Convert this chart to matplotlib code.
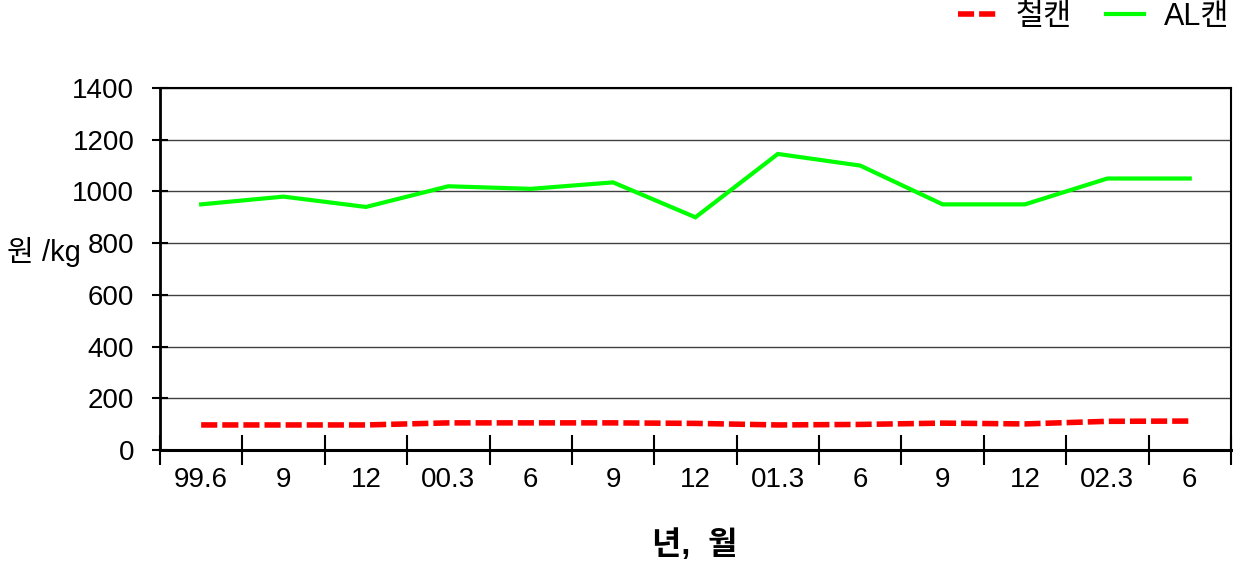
import numpy as np
import matplotlib
matplotlib.use('Agg')
import matplotlib.pyplot as plt
from matplotlib.lines import Line2D

plt.rcParams['font.family'] = ['Liberation Sans', 'Noto Sans CJK KR']

# ---- data ----
months = ['99.6', '9', '12', '00.3', '6', '9', '12', '01.3', '6', '9', '12', '02.3', '6']
steel_can = [97, 97, 97, 105, 105, 105, 103, 97, 99, 104, 101, 111, 112]
al_can = [950, 980, 940, 1020, 1010, 1035, 900, 1145, 1100, 950, 950, 1050, 1050]
series_names = ['철캔', 'AL캔']
y_ticks = [0, 200, 400, 600, 800, 1000, 1200, 1400]

RED = '#ff0000'
GREEN = '#00ff00'

fig = plt.figure(figsize=(12.43, 5.67), dpi=100)
ax = fig.add_axes([0.1287, 0.2063, 0.8616, 0.6385])

x = np.arange(len(months))
ax.plot(x, steel_can, color=RED, linewidth=4, dashes=(2.9, 0.9), zorder=3)
ax.plot(x, al_can, color=GREEN, linewidth=3, solid_joinstyle='miter', zorder=3)

ax.set_xlim(-0.5, len(months) - 0.5)
ax.set_ylim(0, 1400)
ax.set_yticks(y_ticks)
ax.yaxis.grid(True, color='#404040', linewidth=1)
ax.set_axisbelow(True)

# category boundaries as major ticks, labels on minor ticks
ax.set_xticks(np.arange(-0.5, len(months), 1))
ax.set_xticklabels([])
ax.set_xticks(x, minor=True)
ax.set_xticklabels(months, minor=True)
ax.tick_params(axis='x', which='major', direction='inout', length=21, width=1.5)
ax.tick_params(axis='x', which='minor', length=0, pad=12, labelsize=20)
ax.tick_params(axis='y', direction='inout', length=11, width=1.5, pad=13, labelsize=20)

for sp in ax.spines.values():
    sp.set_linewidth(1.5)
    sp.set_color('black')
ax.spines['bottom'].set_linewidth(2.2)
ax.spines['left'].set_linewidth(2.0)

fig.text(7 / 1243, 1 - 252 / 567, '원 /kg', fontsize=21, ha='left', va='center')
fig.text(695 / 1243, 1 - 545 / 567, '년,  월', fontsize=23, fontweight='bold',
         ha='center', va='center')

handles = [Line2D([0], [0], color=RED, linewidth=4, dashes=(2.9, 0.9)),
           Line2D([0], [0], color=GREEN, linewidth=3)]
ax.legend(handles, series_names, loc='upper right', bbox_to_anchor=(0.989, 0.997),
          bbox_transform=fig.transFigure, ncol=2, frameon=False,
          prop={'size': 22},
          handlelength=1.25, handletextpad=0.65, columnspacing=1.1,
          borderaxespad=0, borderpad=0)

fig.savefig('out.png', dpi=100, facecolor='white')
